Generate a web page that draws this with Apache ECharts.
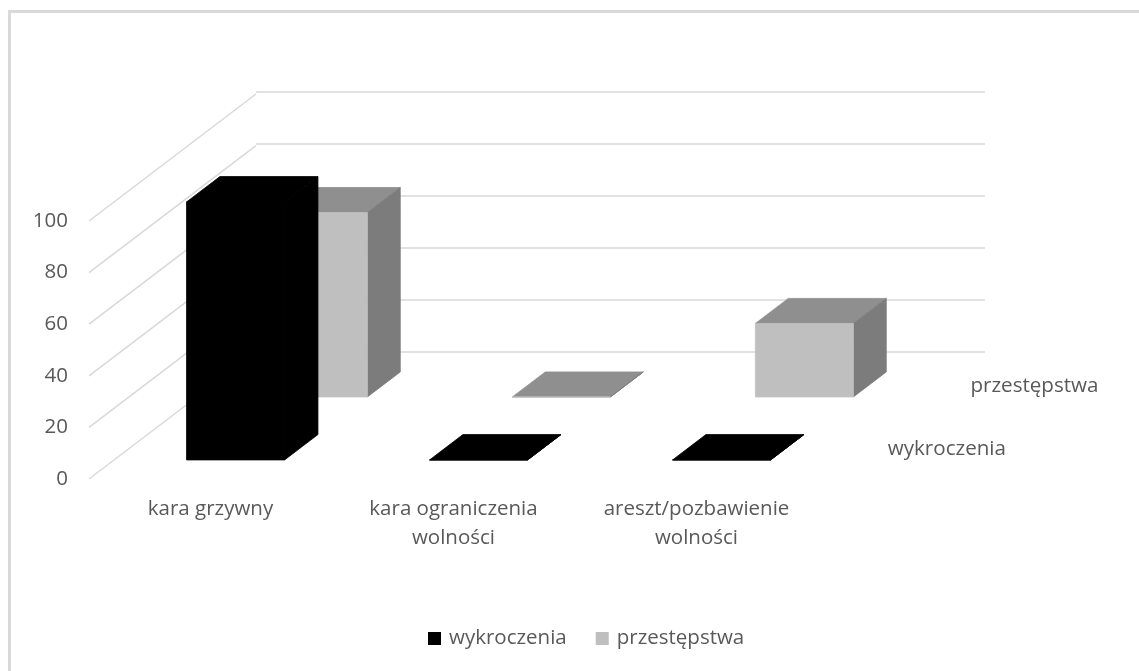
<!DOCTYPE html>
<html>
<head>
<meta charset="utf-8">
<style>html,body{margin:0;padding:0;background:#fff}#chart{width:1139px;height:671px}</style>
<script src="https://cdn.jsdelivr.net/npm/echarts@6/dist/echarts.min.js"></script>
</head>
<body>
<div id="chart"></div>
<script>
// Chart data
const categories = ['kara grzywny', 'kara ograniczenia\nwolności', 'areszt/pozbawienie\nwolności'];
const wykroczenia = [100, 0, 0];
const przestepstwa = [71.5, 0, 28.5];
const yTicks = [0, 20, 40, 60, 80, 100];

// Oblique projection of the depth axis: screen shift at full depth
const DEPTH_X = 167, DEPTH_Y = -127;
const BAR_SHARE = 98 / 243;

function project(api, cat, val, depth, shift) {
  const p = api.coord([cat, val]);
  return [p[0] + shift + depth * DEPTH_X, p[1] + depth * DEPTH_Y];
}

function face(points, fill) {
  return { type: 'polygon', shape: { points: points }, style: { fill: fill, stroke: fill, lineWidth: 0.8 } };
}

// Draws one box: front, top and right faces between two depth planes
function boxRenderer(d0, d1, colors) {
  return function (params, api) {
    const cat = api.value(0), val = api.value(1);
    const half = api.size([1, 0])[0] * BAR_SHARE / 2;
    const a = project(api, cat, 0, d0, -half);
    const b = project(api, cat, 0, d0, half);
    const c = project(api, cat, val, d0, half);
    const e = project(api, cat, val, d0, -half);
    const f = project(api, cat, val, d1, -half);
    const g = project(api, cat, val, d1, half);
    const h = project(api, cat, 0, d1, half);
    return {
      type: 'group',
      children: [
        face([e, c, g, f], colors.top),
        face([b, h, g, c], colors.side),
        face([a, b, c, e], colors.front)
      ]
    };
  };
}

// Series name written on the floor, right of the last category
function depthLabel(name, depth) {
  return {
    type: 'custom',
    coordinateSystem: 'cartesian2d',
    silent: true,
    z: 3,
    data: [[categories.length - 1, 0]],
    renderItem: function (params, api) {
      const shift = api.size([1, 0])[0] / 2 + 28;
      const p = project(api, api.value(0), api.value(1), depth, shift);
      return {
        type: 'text',
        x: p[0], y: p[1] + 2,
        style: {
          text: name, fill: '#595959', align: 'left', verticalAlign: 'middle',
          font: '20.6px "Open Sans"'
        }
      };
    }
  };
}

const font = '"Open Sans"';
const chart = echarts.init(document.getElementById('chart'));
chart.setOption({
  animation: false,
  backgroundColor: '#ffffff',
  graphic: [{
    type: 'rect',
    shape: { x: 9.5, y: 11.5, width: 1140, height: 680 },
    style: { fill: 'none', stroke: '#d9d9d9', lineWidth: 3 },
    silent: true, z: -10
  }],
  legend: {
    data: ['wykroczenia', 'przestępstwa'],
    left: 423, top: 623,
    icon: 'rect', itemWidth: 13, itemHeight: 13, itemGap: 29,
    textStyle: { color: '#595959', fontFamily: font, fontSize: 20.5, padding: [0, 0, 0, 3] }
  },
  grid: [
    { left: 89, top: 221, width: 729, height: 258 },
    { left: 256, top: 92, width: 729, height: 260 }
  ],
  xAxis: [
    {
      type: 'category', gridIndex: 0, data: categories,
      axisLine: { show: false }, axisTick: { show: false },
      axisLabel: { color: '#595959', fontFamily: font, fontSize: 20.5, margin: 16, lineHeight: 29 }
    },
    { type: 'category', gridIndex: 1, data: categories, show: false }
  ],
  yAxis: [
    {
      type: 'value', gridIndex: 0, min: 0, max: 100, interval: 20,
      axisLine: { show: false }, axisTick: { show: false }, splitLine: { show: false },
      axisLabel: { color: '#595959', fontFamily: font, fontSize: 20.5, margin: 21, padding: [2, 0, 0, 0] }
    },
    {
      type: 'value', gridIndex: 1, min: 0, max: 100, interval: 20,
      axisLine: { show: false }, axisTick: { show: false }, axisLabel: { show: false },
      splitLine: { lineStyle: { color: '#d9d9d9', width: 1.5 } }
    }
  ],
  series: [
    {
      // Diagonal gridlines on the left wall
      type: 'custom', silent: true, z: 1,
      data: yTicks.map(v => [0, v]),
      renderItem: function (params, api) {
        const p = api.coord([0, api.value(1)]);
        const left = p[0] - api.size([1, 0])[0] / 2;
        return {
          type: 'line',
          shape: { x1: left, y1: p[1], x2: left + DEPTH_X, y2: p[1] + DEPTH_Y },
          style: { stroke: '#d9d9d9', lineWidth: 1.5 }
        };
      }
    },
    {
      name: 'przestępstwa', type: 'custom', z: 2,
      itemStyle: { color: '#bfbfbf' },
      data: przestepstwa.map((v, i) => [i, v]),
      renderItem: boxRenderer(0.646, 0.843, { front: '#bfbfbf', top: '#8f8f8f', side: '#7c7c7c' })
    },
    {
      name: 'wykroczenia', type: 'custom', z: 3,
      itemStyle: { color: '#000000' },
      data: wykroczenia.map((v, i) => [i, v]),
      renderItem: boxRenderer(0.15, 0.35, { front: '#000000', top: '#000000', side: '#000000' })
    },
    depthLabel('wykroczenia', 0.25),
    depthLabel('przestępstwa', 0.745)
  ]
});
</script>
</body>
</html>
